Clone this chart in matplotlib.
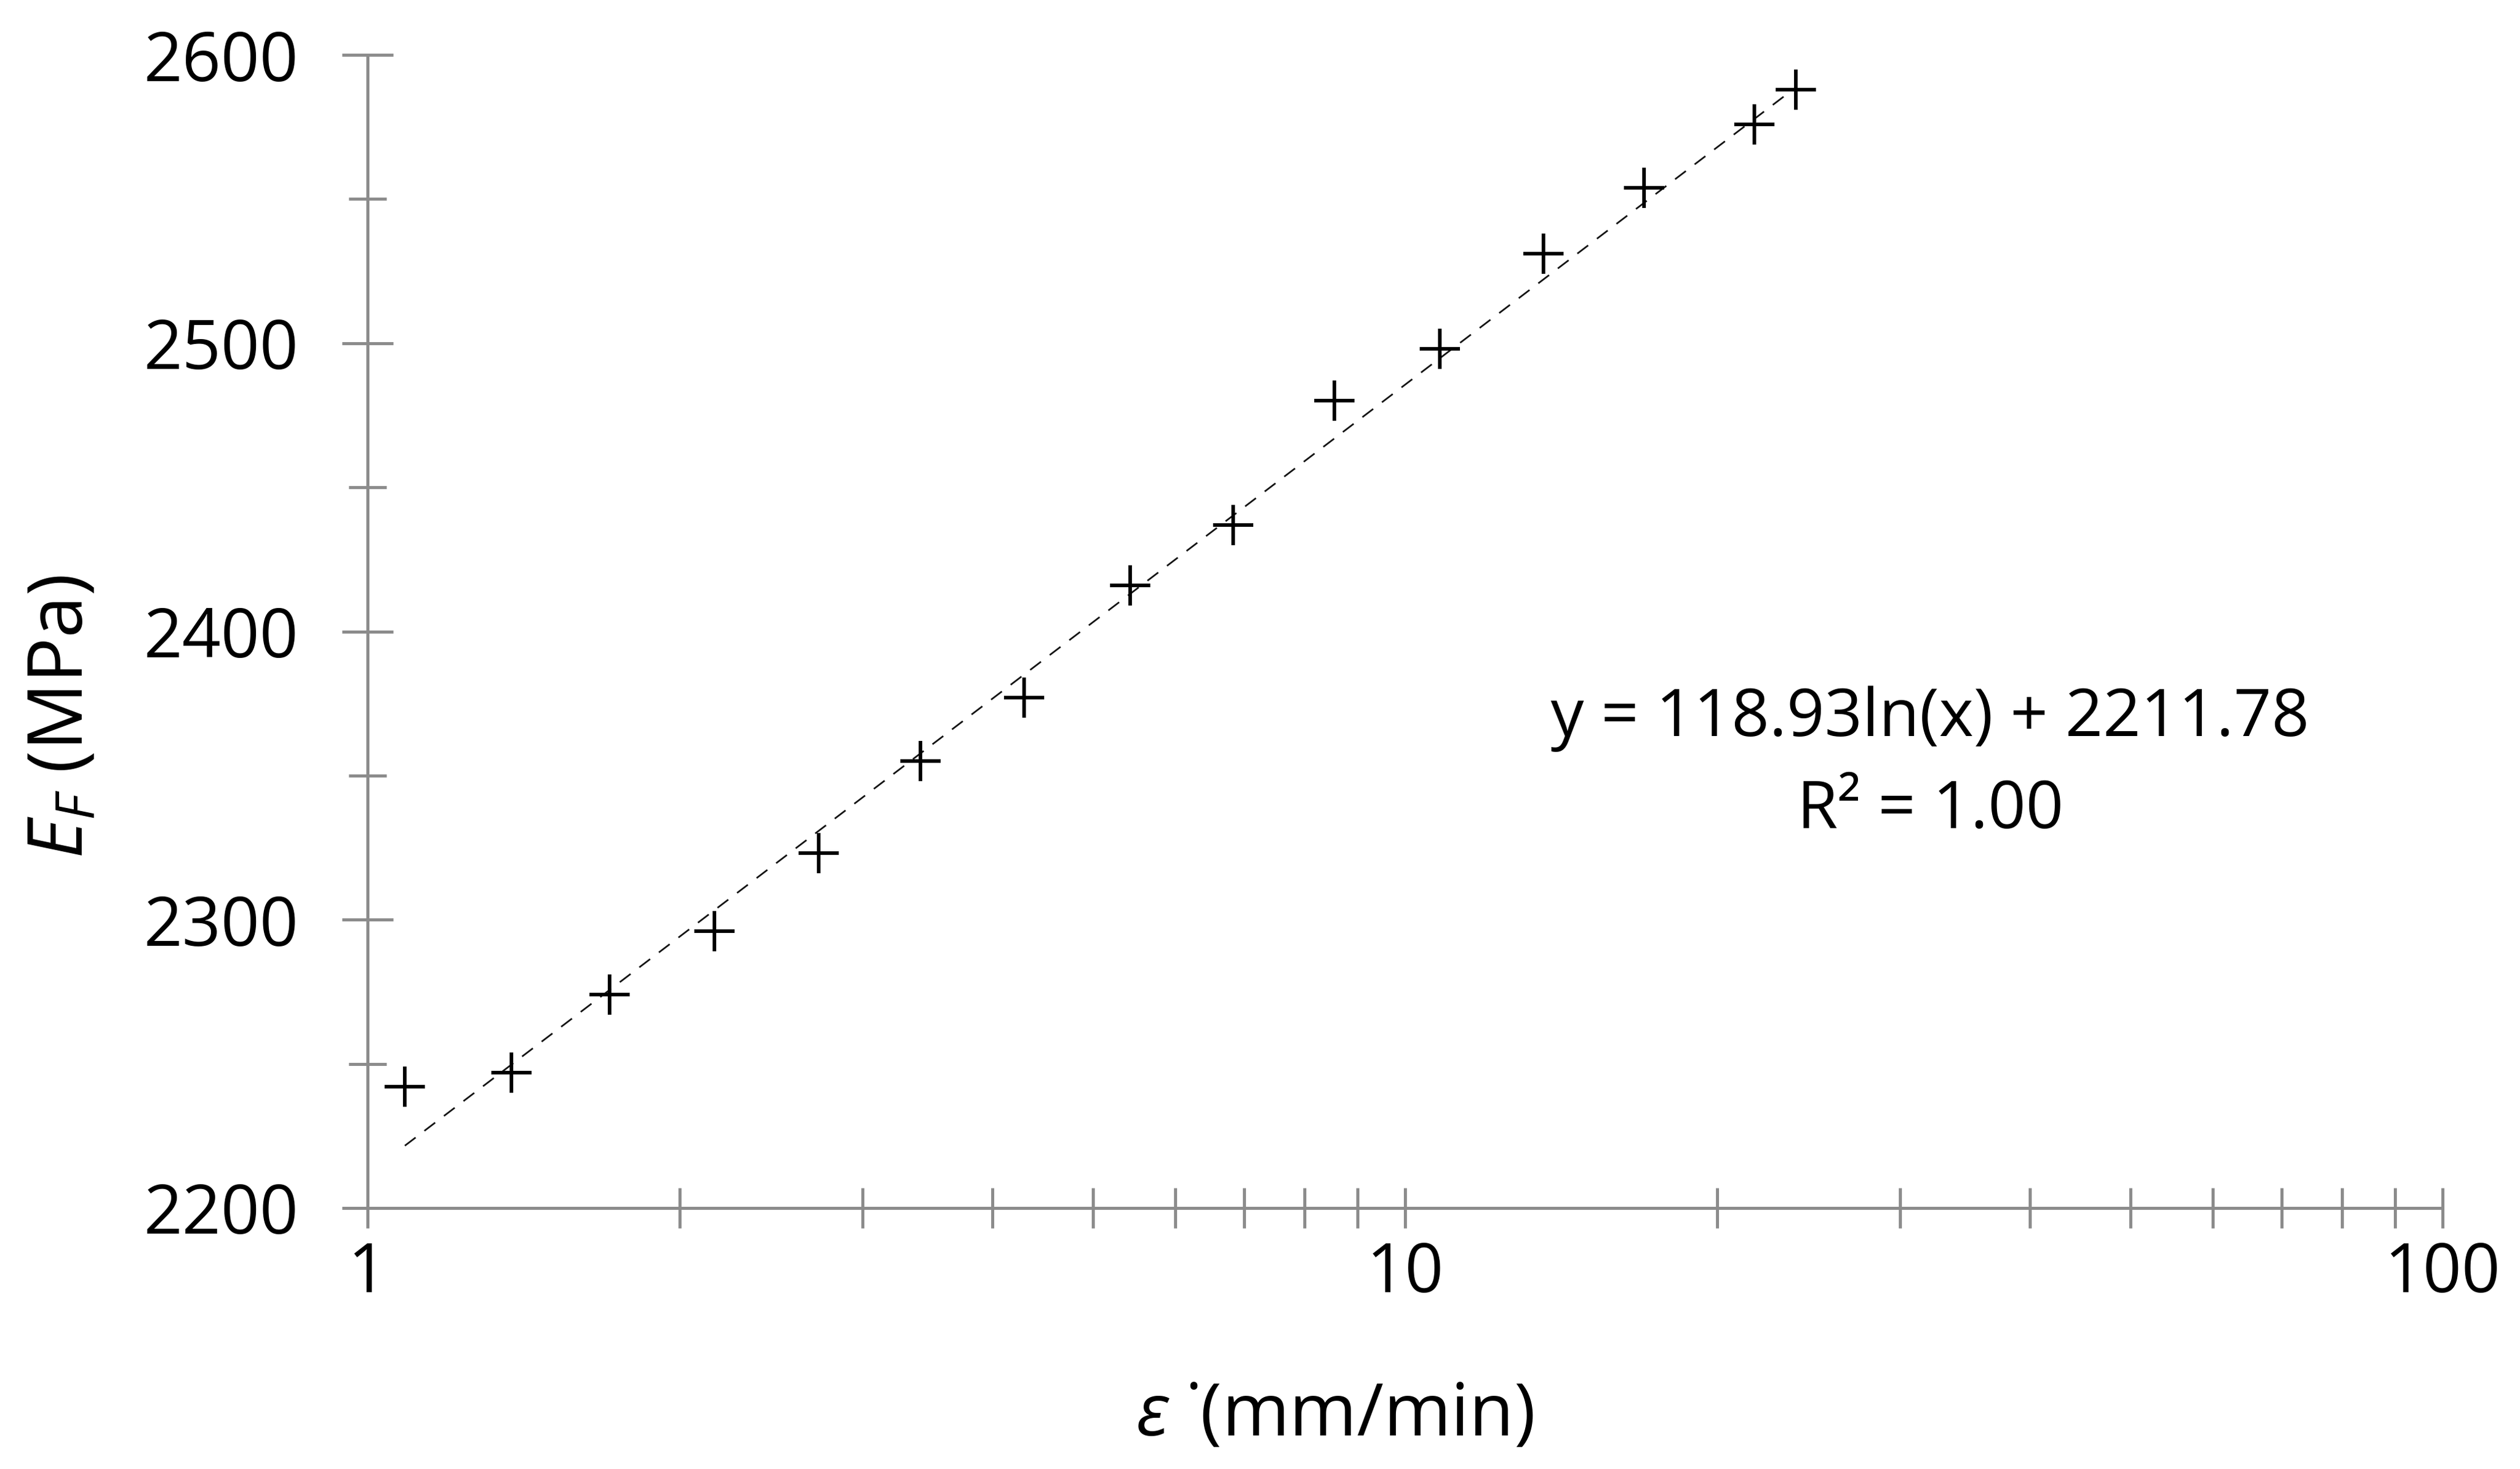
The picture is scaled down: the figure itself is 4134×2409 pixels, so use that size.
import numpy as np
import matplotlib
matplotlib.use("Agg")
import matplotlib.pyplot as plt
from matplotlib.ticker import FixedLocator, NullFormatter, FixedFormatter

# ---- data ----
strain_rate = [1.086, 1.375, 1.71, 2.16, 2.72, 3.41, 4.29, 5.43, 6.83, 8.55,
               10.8, 13.6, 17.0, 21.7, 23.8]
modulus = [2242, 2247, 2274, 2296, 2323, 2355, 2377, 2416, 2437, 2480,
           2498, 2531, 2554, 2576, 2588]
fit_slope = 118.93
fit_intercept = 2211.78
x_major = [1, 10, 100]
x_major_labels = ["1", "10", "100"]
x_minor = [2, 3, 4, 5, 6, 7, 8, 9, 20, 30, 40, 50, 60, 70, 80, 90]
y_major = [2200, 2300, 2400, 2500, 2600]
y_minor = [2250, 2350, 2450, 2550]
eq_text = "y = 118.93ln(x) + 2211.78"
r2_text = "R² = 1.00"

plt.rcParams['font.family'] = ['Open Sans', 'DejaVu Sans']
plt.rcParams['mathtext.fontset'] = 'custom'
plt.rcParams['mathtext.rm'] = 'Open Sans'
plt.rcParams['mathtext.it'] = 'Open Sans:italic'

grey = '#8c8c8c'
fig = plt.figure(figsize=(41.34, 24.09), dpi=100)
ax = fig.add_axes([0.1459, 0.1777, 0.8234, 0.7849])

ax.set_xscale('log')
ax.set_xlim(1, 100)
ax.set_ylim(2200, 2600)

# trend line
xs = np.geomspace(min(strain_rate), max(strain_rate), 200)
ax.plot(xs, fit_slope * np.log(xs) + fit_intercept, color='#141414',
        lw=2.0, dashes=(8, 6.5), zorder=2)

# data points
ax.plot(strain_rate, modulus, linestyle='none', marker='+', markersize=48,
        markeredgewidth=4.2, color='black', zorder=3, clip_on=False)

for s in ['top', 'right']:
    ax.spines[s].set_visible(False)
for s in ['left', 'bottom']:
    ax.spines[s].set_color(grey)
    ax.spines[s].set_linewidth(3.6)

ax.xaxis.set_major_locator(FixedLocator(x_major))
ax.xaxis.set_major_formatter(FixedFormatter(x_major_labels))
ax.xaxis.set_minor_locator(FixedLocator(x_minor))
ax.xaxis.set_minor_formatter(NullFormatter())
ax.yaxis.set_major_locator(FixedLocator(y_major))
ax.yaxis.set_minor_locator(FixedLocator(y_minor))
ax.yaxis.set_minor_formatter(NullFormatter())

ax.tick_params(axis='x', which='both', direction='inout', length=47,
               width=3.6, color=grey, labelsize=80, pad=15)
ax.tick_params(axis='y', which='major', direction='inout', length=60,
               width=3.6, color=grey, labelsize=80, pad=52)
ax.tick_params(axis='y', which='minor', direction='inout', length=45,
               width=3.6, color=grey)

ax.set_ylabel(r'$E_F$ (MPa)', fontsize=89, va='center', ha='center')
ax.yaxis.set_label_coords(-0.1469, 0.4257)
ax.set_xlabel(r'$\mathit{ε}$ ˙(mm/min)', fontsize=86, va='baseline', ha='center')
ax.xaxis.set_label_coords(0.466, -0.1973)

ax.text(0.753, 0.4093, eq_text, transform=ax.transAxes, fontsize=78,
        ha='center', va='baseline')
ax.text(0.753, 0.3295, r2_text, transform=ax.transAxes, fontsize=78,
        ha='center', va='baseline')

fig.savefig('out.png', dpi=100, facecolor='white')
